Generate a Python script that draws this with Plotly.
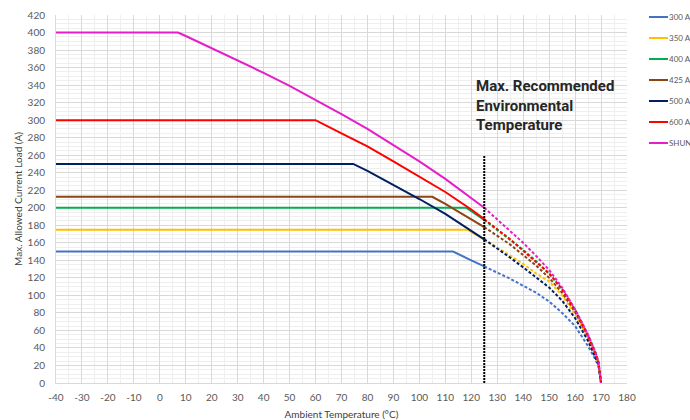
import plotly.graph_objects as go

# ---------------- data ----------------
series_names = ["300 A", "350 A", "400 A", "425 A", "500 A", "600 A", "SHUNT"]
series_colors = ["#4472C4", "#FFC000", "#00B050", "#8B4513", "#002060", "#FF0000", "#E61EC8"]

# solid (within recommended range) segments
t_300 = [-40, 113, 120, 125]
a_300 = [150, 150, 140, 133]
t_350 = [-40, 118.5, 120, 125]
a_350 = [175, 175, 172.5, 164]
t_400 = [-40, 118, 120, 125]
a_400 = [200, 200, 196, 186]
t_425 = [-40, 105, 110, 120, 125]
a_425 = [212.5, 212.5, 204.5, 187, 178]
t_500 = [-40, 74.5, 80, 90, 100, 110, 120, 125]
a_500 = [250, 250, 242, 226, 210, 193, 174, 164]
t_600 = [-40, 60, 70, 80, 90, 100, 110, 120, 125]
a_600 = [300, 300, 285, 270, 253, 236, 218, 198, 187]
t_shunt = [-40, 7, 10, 20, 30, 40, 50, 60, 70, 80, 90, 100, 110, 120, 125]
a_shunt = [400, 400, 396, 382, 368, 354, 339, 323, 307, 290, 272, 253, 233, 211, 200]

# dashed (beyond recommended range) segments
t_ext = [125, 130, 135, 140, 145, 150, 155, 160, 165, 168, 169, 170]
ext_300 = [133, 126, 119, 111, 103, 93, 80, 65, 42, 26, 19, 0]
ext_350 = [164, 155, 146, 136, 125, 116, 100, 78, 51, 31, 22, 0]
ext_400 = [186, 175, 164, 152, 139, 125, 107, 84, 55, 34, 24, 0]
ext_425 = [178, 168, 158, 146, 134, 120, 103, 81, 53, 33, 23, 0]
ext_500 = [164, 154, 143, 132, 121, 109, 94, 74, 48, 29, 21, 0]
ext_600 = [187, 176, 164, 151, 138, 125, 107, 83, 54, 33, 24, 0]
ext_shunt = [200, 187, 174, 160, 145, 129, 109, 84, 55, 34, 24, 0]

limit_t = [125, 125]
limit_a = [0, 260]

x_ticks = list(range(-40, 181, 10))
y_ticks = list(range(0, 421, 20))

solid_t = [t_300, t_350, t_400, t_425, t_500, t_600, t_shunt]
solid_a = [a_300, a_350, a_400, a_425, a_500, a_600, a_shunt]
ext_a = [ext_300, ext_350, ext_400, ext_425, ext_500, ext_600, ext_shunt]

# ---------------- figure ----------------
fig = go.Figure()

for name, col, ts, as_, ea in zip(series_names, series_colors, solid_t, solid_a, ext_a):
    fig.add_trace(go.Scatter(x=t_ext, y=ea, mode="lines", name=name + " ext",
                             line=dict(color=col, width=2, dash="3px,2px"),
                             showlegend=False, hoverinfo="skip"))
    fig.add_trace(go.Scatter(x=ts, y=as_, mode="lines", name=name,
                             line=dict(color=col, width=2), showlegend=False))

fig.add_trace(go.Scatter(x=limit_t, y=limit_a, mode="lines",
                         line=dict(color="#000000", width=2, dash="2px,1px"),
                         showlegend=False, hoverinfo="skip"))

W, H = 690, 420
ML, MR, MT, MB = 56, 63, 15, 37
PW, PH = W - ML - MR, H - MT - MB

def px(xp):
    return (xp - ML) / PW

def py(yp):
    return (H - MB - yp) / PH

shapes = []
annotations = []
legend_y = [17, 38, 59, 80, 101, 122, 143]
for name, col, ly in zip(series_names, series_colors, legend_y):
    shapes.append(dict(type="line", xref="paper", yref="paper",
                       x0=px(649), x1=px(668), y0=py(ly), y1=py(ly),
                       line=dict(color=col, width=2)))
    annotations.append(dict(xref="paper", yref="paper", x=px(667), y=py(ly),
                            xanchor="left", yanchor="middle", text=name,
                            showarrow=False,
                            font=dict(family="Lato", size=8, color="#595959")))

annotations.append(dict(xref="x", yref="y", x=121.0, y=352, xanchor="left", yanchor="top",
                        align="left", showarrow=False,
                        text="<b>Max. Recommended<br>Environmental<br>Temperature</b>",
                        font=dict(family="Roboto", size=15, color="#262626")))

fig.update_layout(
    width=W, height=H,
    margin=dict(l=ML, r=MR, t=MT, b=MB, autoexpand=False),
    paper_bgcolor="white", plot_bgcolor="white",
    font=dict(family="Lato", size=10, color="#595959"),
    shapes=shapes, annotations=annotations, showlegend=False,
)

fig.update_xaxes(range=[-40, 180], tickvals=x_ticks, ticktext=[str(v) for v in x_ticks],
                 showgrid=True, gridcolor="#D9D9D9", gridwidth=1,
                 minor=dict(dtick=5, showgrid=True, gridcolor="#EFEFEF", gridwidth=1),
                 zeroline=False, showline=True, linecolor="#D9D9D9", linewidth=1,
                 ticks="", ticklabelstandoff=5,
                 tickfont=dict(family="Lato", size=10, color="#595959"),
                 title=dict(text="Ambient Temperature (°C)", standoff=9,
                            font=dict(family="Lato", size=10, color="#404040")))
fig.update_yaxes(range=[0, 420], tickvals=y_ticks, ticktext=[str(v) for v in y_ticks],
                 showgrid=True, gridcolor="#D9D9D9", gridwidth=1,
                 minor=dict(dtick=5, showgrid=True, gridcolor="#EFEFEF", gridwidth=1),
                 zeroline=False, showline=True, linecolor="#D9D9D9", linewidth=1,
                 ticks="", ticklabelstandoff=8,
                 tickfont=dict(family="Lato", size=10, color="#595959"),
                 title=dict(text="Max. Allowed Current Load (A)", standoff=3,
                            font=dict(family="Lato", size=10, color="#404040")))

fig.write_html("out.html", config={"displayModeBar": False})

# remove the default page margin so the 690x420 figure fills the window exactly
with open("out.html", "r", encoding="utf-8") as fh:
    html = fh.read()
html = html.replace("<head>", "<head><style>html,body{margin:0;padding:0;overflow:hidden;}</style>", 1)
with open("out.html", "w", encoding="utf-8") as fh:
    fh.write(html)
